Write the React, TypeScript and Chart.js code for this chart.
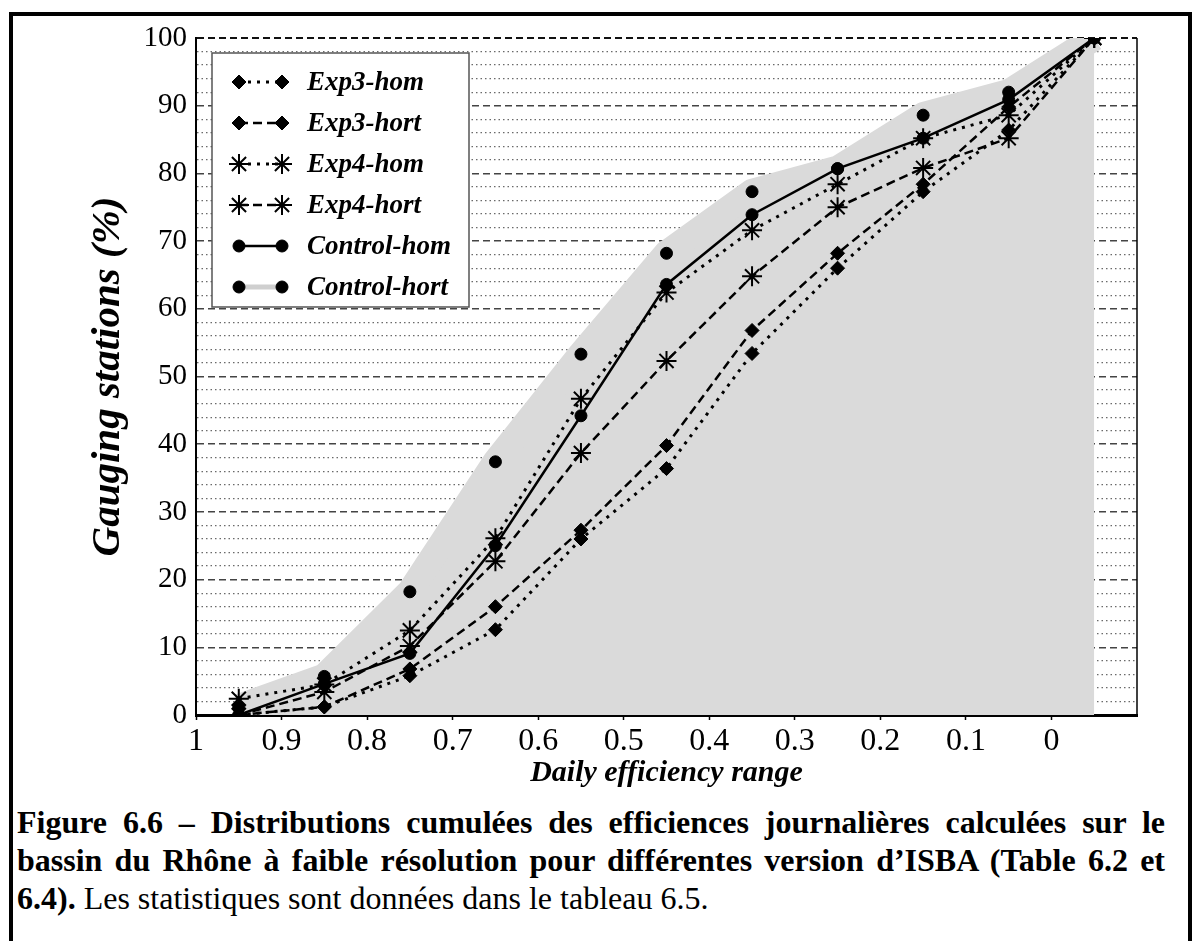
import React, { useEffect, useRef } from 'react';
import { Chart, registerables } from 'chart.js';
import { drawPoint } from 'chart.js/helpers';

Chart.register(...registerables);

// ---------- data ----------
const X_VALUES = [0.95, 0.85, 0.75, 0.65, 0.55, 0.45, 0.35, 0.25, 0.15, 0.05, -0.05];
const EXP3_HOM = [0, 1.2, 5.8, 12.6, 26.0, 36.4, 53.4, 66.0, 77.3, 86.4, 100];
const EXP3_HORT = [0, 1.2, 6.8, 16.0, 27.3, 39.8, 56.8, 68.2, 78.4, 89.8, 100];
const EXP4_HOM = [2.4, 4.5, 12.5, 26.1, 46.7, 62.4, 71.6, 78.4, 85.2, 88.6, 100];
const EXP4_HORT = [0, 3.4, 10.2, 22.7, 38.7, 52.3, 64.8, 75.0, 80.8, 85.2, 100];
const CONTROL_HOM = [0, 4.6, 9.1, 25.0, 44.2, 63.6, 73.9, 80.7, 85.2, 90.9, 100];
const CONTROL_HORT = [1.2, 5.7, 18.2, 37.4, 53.3, 68.2, 77.3, 80.7, 88.6, 92.0, 100];

const SERIES_NAMES = ['Exp3-hom', 'Exp3-hort', 'Exp4-hom', 'Exp4-hort', 'Control-hom', 'Control-hort'];

const X_TICKS = [1, 0.9, 0.8, 0.7, 0.6, 0.5, 0.4, 0.3, 0.2, 0.1, 0];
const X_TICK_LABELS = ['1', '0.9', '0.8', '0.7', '0.6', '0.5', '0.4', '0.3', '0.2', '0.1', '0'];
const Y_GRID = [0, 2, 4, 6, 8, 10, 12, 14, 16, 18, 20, 22, 24, 26, 28, 30, 32, 34, 36, 38, 40, 42, 44, 46, 48, 50,
  52, 54, 56, 58, 60, 62, 64, 66, 68, 70, 72, 74, 76, 78, 80, 82, 84, 86, 88, 90, 92, 94, 96, 98, 100];
const Y_MAJOR = [0, 10, 20, 30, 40, 50, 60, 70, 80, 90, 100];

const X_TITLE = 'Daily efficiency range';
const Y_TITLE = 'Gauging stations (%)';

// ---------- styles ----------
const DOT = [3, 6];
const DASH = [9, 5];
const GREY = '#dadada';
const SERIF = '"Liberation Serif", "Times New Roman", serif';

const pts = (ys: number[]) => X_VALUES.map((x, i) => ({ x, y: ys[i] }));

const legendPlugin = {
  id: 'boxLegend',
  afterDatasetsDraw(chart: any) {
    const { ctx, chartArea } = chart;
    const bx = chartArea.left + 16;
    const by = chartArea.top + 15;
    const bw = 257;
    const bh = 254;
    ctx.save();
    ctx.fillStyle = '#fff';
    ctx.fillRect(bx, by, bw, bh);
    ctx.strokeStyle = '#555';
    ctx.lineWidth = 1.5;
    ctx.strokeRect(bx, by, bw, bh);
    SERIES_NAMES.forEach((name, i) => {
      const ds = chart.data.datasets.find((d: any) => d.label === name);
      const y = by + 29 + i * 41;
      const x1 = bx + 27;
      const x2 = bx + 70;
      ctx.save();
      ctx.strokeStyle = ds.legendLineColor || ds.borderColor;
      ctx.lineWidth = ds.legendLineWidth || ds.borderWidth;
      ctx.setLineDash(ds.borderDash || []);
      ctx.beginPath();
      ctx.moveTo(x1, y);
      ctx.lineTo(x2, y);
      ctx.stroke();
      ctx.restore();
      ctx.save();
      ctx.fillStyle = '#000';
      ctx.strokeStyle = '#000';
      ctx.lineWidth = ds.pointBorderWidth;
      ctx.setLineDash([]);
      [x1, x2].forEach((x) => {
        drawPoint(ctx, { pointStyle: ds.pointStyle, rotation: 0, radius: ds.pointRadius, borderWidth: ds.pointBorderWidth }, x, y);
      });
      ctx.restore();
      ctx.fillStyle = '#000';
      ctx.font = `italic bold 27px ${SERIF}`;
      ctx.textBaseline = 'middle';
      ctx.textAlign = 'left';
      ctx.fillText(name, bx + 95, y + 1);
    });
    // right frame line
    ctx.strokeStyle = '#000';
    ctx.lineWidth = 1.5;
    ctx.setLineDash([]);
    ctx.beginPath();
    ctx.moveTo(chartArea.right, chartArea.top);
    ctx.lineTo(chartArea.right, chartArea.bottom);
    ctx.stroke();
    ctx.restore();
  },
};

export default function App() {
  const canvasRef = useRef<HTMLCanvasElement>(null);

  useEffect(() => {
    if (!canvasRef.current) return;
    const common = { borderColor: '#000', pointBackgroundColor: '#000', pointBorderColor: '#000', fill: false, tension: 0 };
    const chart = new Chart(canvasRef.current, {
      type: 'line',
      data: {
        datasets: [
          { ...common, label: 'Exp3-hom', data: pts(EXP3_HOM), borderWidth: 3, borderDash: DOT,
            pointStyle: 'rectRot', pointRadius: 7, pointBorderWidth: 1, order: 1 },
          { ...common, label: 'Exp3-hort', data: pts(EXP3_HORT), borderWidth: 2.5, borderDash: DASH,
            pointStyle: 'rectRot', pointRadius: 7, pointBorderWidth: 1, order: 1 },
          { ...common, label: 'Exp4-hom', data: pts(EXP4_HOM), borderWidth: 3, borderDash: DOT,
            pointStyle: 'star', pointRadius: 10, pointBorderWidth: 2, order: 1 },
          { ...common, label: 'Exp4-hort', data: pts(EXP4_HORT), borderWidth: 2.5, borderDash: DASH,
            pointStyle: 'star', pointRadius: 10, pointBorderWidth: 2, order: 1 },
          { ...common, label: 'Control-hom', data: pts(CONTROL_HOM), borderWidth: 2.5, borderDash: [],
            pointStyle: 'circle', pointRadius: 6, pointBorderWidth: 1, order: 1 },
          { ...common, label: 'Control-hort', data: pts(CONTROL_HORT), borderColor: GREY, borderWidth: 26,
            borderJoinStyle: 'round', backgroundColor: GREY, fill: 'origin', borderDash: [],
            legendLineColor: '#cfcfcf', legendLineWidth: 5,
            pointStyle: 'circle', pointRadius: 6, pointBorderWidth: 1, order: 10, clip: 0 } as any,
        ],
      },
      options: {
        responsive: false,
        animation: false,
        devicePixelRatio: 1,
        events: [],
        layout: { padding: { left: 0, top: 38, right: 63, bottom: 0 }, autoPadding: false },
        plugins: { legend: { display: false }, tooltip: { enabled: false } },
        scales: {
          x: {
            type: 'linear',
            reverse: true,
            min: -0.1,
            max: 1,
            afterBuildTicks: (axis: any) => { axis.ticks = X_TICKS.map((v) => ({ value: v })); },
            afterFit: (s: any) => { s.height = 85; },
            grid: { drawOnChartArea: false, drawTicks: true, tickLength: 5, tickColor: '#000', tickWidth: 1.5 },
            border: { display: true, color: '#000', width: 3 },
            ticks: {
              color: '#000', font: { size: 32, family: SERIF }, padding: 2, autoSkip: false, maxRotation: 0,
              callback: (_v: any, i: number) => X_TICK_LABELS[i],
            },
            title: {
              display: true, text: X_TITLE, color: '#000',
              font: { size: 30, style: 'italic', weight: 'bold', family: SERIF, lineHeight: 1.2 },
              padding: { top: 0, bottom: 9 },
            },
          },
          y: {
            type: 'linear',
            min: 0,
            max: 100,
            afterBuildTicks: (axis: any) => { axis.ticks = Y_GRID.map((v) => ({ value: v })); },
            afterFit: (s: any) => { s.width = 196; },
            grid: {
              drawTicks: false,
              color: (c: any) => (c.tick && c.tick.value === 100 ? '#111' : c.tick && c.tick.value % 10 === 0 ? '#444' : '#6a6a6a'),
              lineWidth: (c: any) => (c.tick && c.tick.value === 100 ? 2 : c.tick && c.tick.value % 10 === 0 ? 1.5 : 1.2),
            },
            border: {
              display: true, color: '#000', width: 2,
              dash: (c: any) => (c.tick && c.tick.value % 10 === 0 ? [7, 4] : [1.5, 3]),
            },
            ticks: {
              color: '#000', font: { size: 29, family: SERIF }, padding: 9, autoSkip: false,
              callback: (v: any) => (Y_MAJOR.includes(v) ? String(v) : ''),
            },
            title: {
              display: true, text: Y_TITLE, color: '#000',
              font: { size: 41, style: 'italic', weight: 'bold', family: SERIF, lineHeight: 1.2 },
              padding: { top: 84, bottom: 0 },
            },
          },
        },
      } as any,
      plugins: [legendPlugin],
    });
    return () => chart.destroy();
  }, []);

  const lineStyle: React.CSSProperties = { textAlign: 'justify', textAlignLast: 'justify' as any, height: 38, whiteSpace: 'normal' };

  return (
    <div style={{ position: 'absolute', left: 0, top: 0, width: 1200, height: 941, overflow: 'hidden', background: '#fff' }}>
      <div style={{ position: 'absolute', left: 9, top: 12, width: 1183, height: 1000, border: '4px solid #000', borderBottom: 'none', boxSizing: 'border-box' }} />
      <canvas ref={canvasRef} width={1200} height={800} style={{ position: 'absolute', left: 0, top: 0, width: 1200, height: 800 }} />
      <div style={{ position: 'absolute', left: 17, top: 803, width: 1148, fontFamily: SERIF, fontSize: 32, fontWeight: 'bold', lineHeight: '38px', color: '#000' }}>
        <div style={lineStyle}>Figure 6.6 – Distributions cumulées des efficiences journalières calculées sur le</div>
        <div style={lineStyle}>bassin du Rhône à faible résolution pour différentes version d’ISBA (Table 6.2 et</div>
        <div style={{ height: 38 }}>6.4).<span style={{ fontWeight: 'normal' }}> Les statistiques sont données dans le tableau 6.5.</span></div>
      </div>
    </div>
  );
}
